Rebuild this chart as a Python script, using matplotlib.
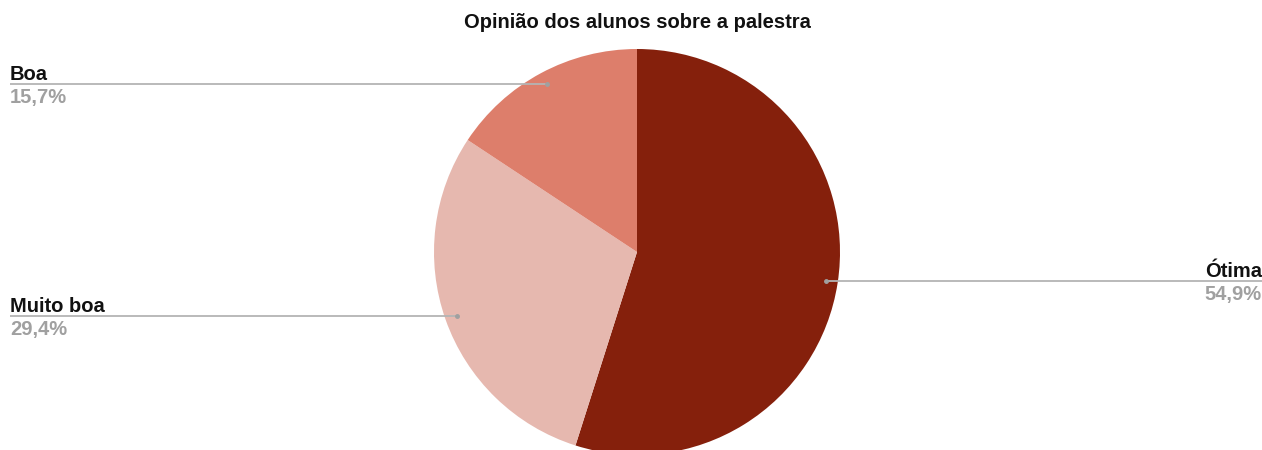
import numpy as np
import matplotlib
matplotlib.use("Agg")
import matplotlib.pyplot as plt

plt.rcParams['font.family'] = ['Liberation Sans', 'DejaVu Sans']

title = "Opinião dos alunos sobre a palestra"
categories = ["Ótima", "Muito boa", "Boa"]
values = [54.9, 29.4, 15.7]
pct_labels = ["54,9%", "29,4%", "15,7%"]
colors = ["#85200c", "#e6b8af", "#dd7e6b"]

W, H = 1262, 450
fig = plt.figure(figsize=(W / 100, H / 100), dpi=100)
ax = fig.add_axes([0, 0, 1, 1])

cx, cy, r = 637, H - 252, 203
wedges, _ = ax.pie(values, colors=colors, startangle=90, counterclock=False,
                   center=(cx, cy), radius=r, frame=True,
                   wedgeprops=dict(linewidth=0))
ax.set_xlim(0, W)
ax.set_ylim(0, H)
ax.set_aspect('equal')
ax.axis('off')

line_col = "#b4b4b4"
name_col = "#111111"
pct_col = "#a0a0a0"
fs = 14.5

for w, name, pct in zip(wedges, categories, pct_labels):
    mid = np.deg2rad((w.theta1 + w.theta2) / 2)
    px = cx + 0.94 * r * np.cos(mid)
    py = cy + 0.94 * r * np.sin(mid)
    if px < cx:
        x_end, ha = 10, 'left'
    else:
        x_end, ha = W, 'right'
    ax.plot([px, x_end], [py, py], color=line_col, lw=1.3, solid_capstyle='butt')
    ax.plot([px], [py], 'o', color="#a0a0a0", ms=2.5)
    ax.text(x_end, py + 4, name, ha=ha, va='baseline', fontsize=fs,
            fontweight='bold', color=name_col)
    ax.text(x_end, py - 19, pct, ha=ha, va='baseline', fontsize=fs,
            fontweight='bold', color=pct_col)

ax.text(cx, H - 22, title, ha='center', va='center', fontsize=14.5,
        fontweight='bold', color="#111111")

fig.savefig("out.png", dpi=100, facecolor='white')
